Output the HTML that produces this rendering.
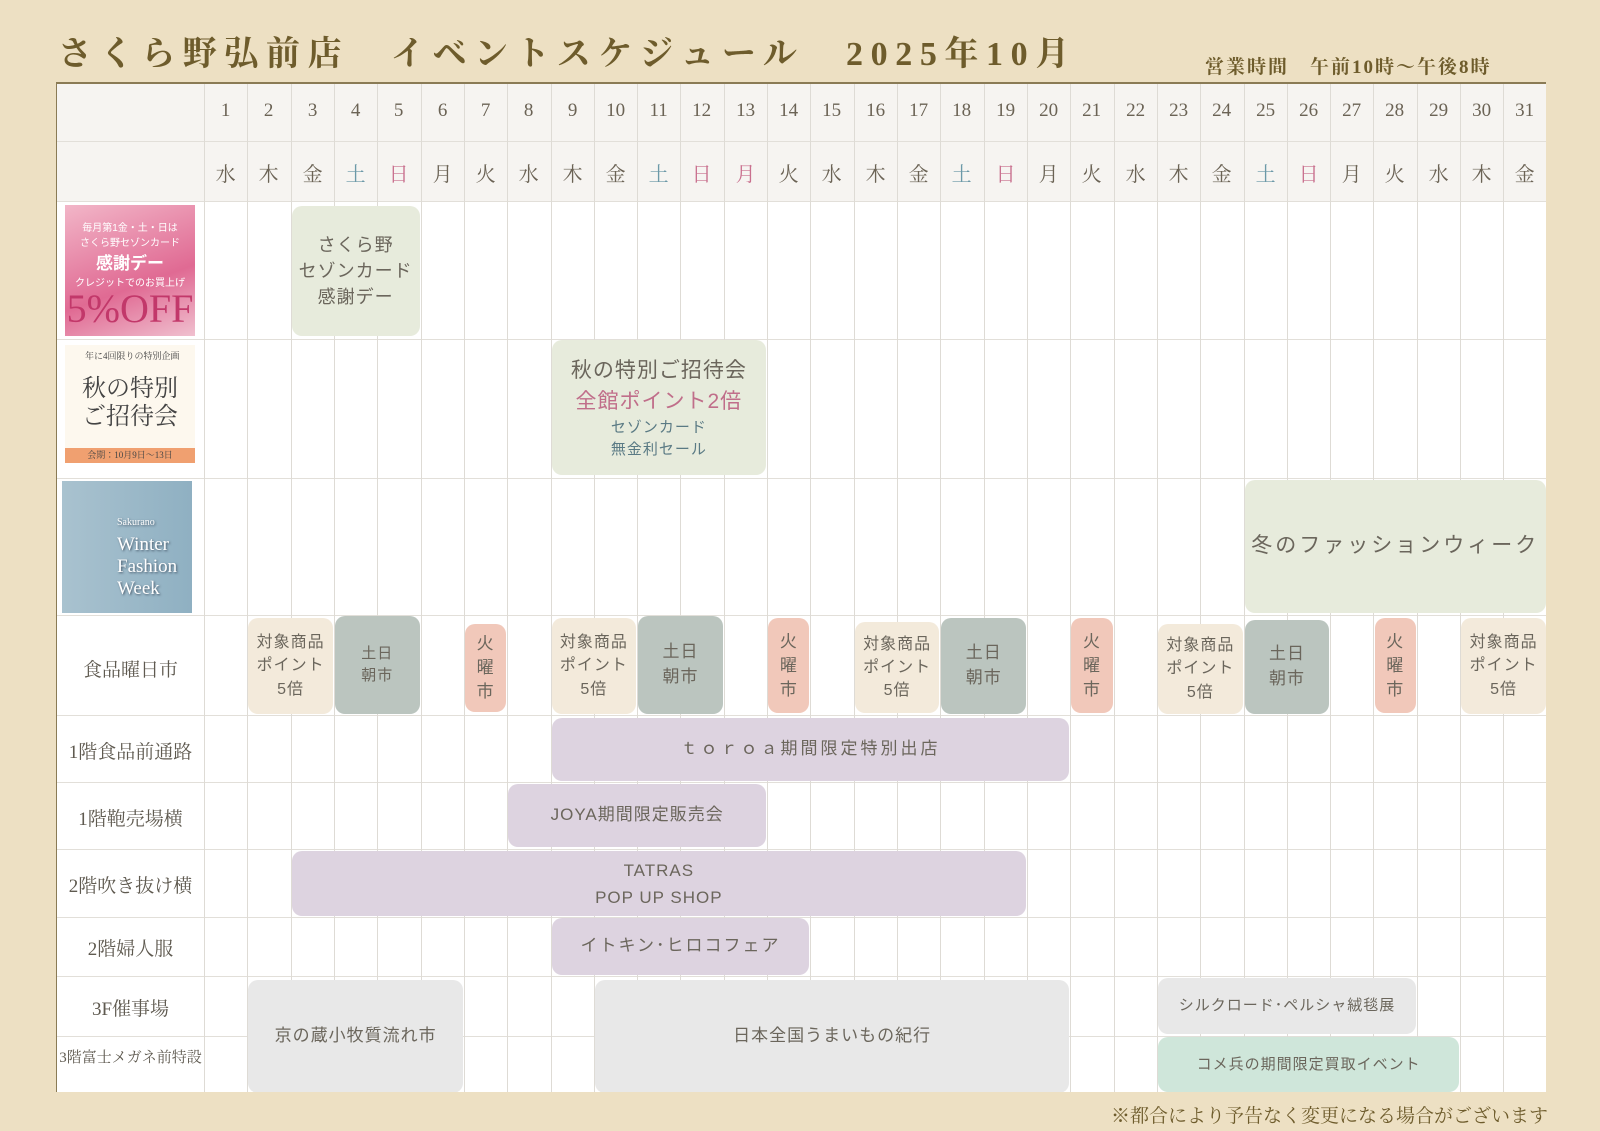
<!DOCTYPE html>
<html><head><meta charset="utf-8">
<style>
*{margin:0;padding:0;box-sizing:border-box}
body{width:1600px;height:1131px;background:#ede0c3;position:relative;overflow:hidden;font-family:"Liberation Serif","Noto Serif CJK JP","Noto Serif CJK SC",serif;color:#6b6355}
.title{position:absolute;left:58px;top:26px;font-size:34px;font-weight:bold;color:#6e5c2c;letter-spacing:7.6px;white-space:nowrap}
.hours{position:absolute;left:1205px;top:52px;font-size:19px;font-weight:bold;color:#6e5c2c;letter-spacing:2px;white-space:nowrap}
.foot{position:absolute;right:52px;top:1101px;font-size:19px;color:#6e5c2c;white-space:nowrap}
.tbl{position:absolute;left:56px;top:82px;width:1490px;height:1010px;background:#fff;border-top:2px solid #8a7b55;border-left:1px solid #8a7b55;overflow:hidden}
.hdr{position:absolute;left:0;top:0;width:1490px;height:117px;background:#f6f4f1}
.vl{position:absolute;top:0;width:1px;height:1010px;background:#dedbd5}
.hl{position:absolute;left:0;width:1490px;height:1px;background:#e2dfd9}
.num,.dow{position:absolute;width:43.32px;text-align:center;font-size:19px}
.num{top:16px}.dow{top:74px;font-size:20px}
.sat{color:#6c99a8}.sun{color:#c9708e}
.lab{position:absolute;left:0;width:147px;text-align:center;font-size:19px;color:#5f5a50}
.ev{position:absolute;left:calc(147px + (var(--s) - 1)*43.32px + 1px);width:calc((var(--e) - var(--s) + 1)*43.32px - 2px);border-radius:10px;display:flex;align-items:center;justify-content:center;text-align:center;font-family:"Liberation Sans","Noto Sans CJK JP",sans-serif;color:#6b665c;font-size:17px;line-height:1.45;letter-spacing:1px}
.g{background:#e7ebdc}.p{background:#ddd3e0}.gr{background:#e8e8e8}.m{background:#cfe6da}
.bg{background:#f3eadb}.sg{background:#bbc5bf}.pk{background:#f1c8ba}
.img{position:absolute;left:8px;width:130px;overflow:hidden}
</style></head><body>
<div class="title">さくら野弘前店　イベントスケジュール　2025年10月</div>
<div class="hours">営業時間　午前10時～午後8時</div>
<div class="tbl">
<div class="hdr"></div>
<div class="hl" style="top:57px"></div>
<div class="hl" style="top:117px"></div>
<div class="hl" style="top:255px"></div>
<div class="hl" style="top:394px"></div>
<div class="hl" style="top:531px"></div>
<div class="hl" style="top:631px"></div>
<div class="hl" style="top:698px"></div>
<div class="hl" style="top:765px"></div>
<div class="hl" style="top:833px"></div>
<div class="hl" style="top:892px"></div>
<div class="hl" style="top:952px"></div>
<div class="vl" style="left:147px"></div>
<div class="vl" style="left:190px"></div><div class="vl" style="left:234px"></div><div class="vl" style="left:277px"></div><div class="vl" style="left:320px"></div><div class="vl" style="left:364px"></div><div class="vl" style="left:407px"></div><div class="vl" style="left:450px"></div><div class="vl" style="left:494px"></div><div class="vl" style="left:537px"></div><div class="vl" style="left:580px"></div><div class="vl" style="left:623px"></div><div class="vl" style="left:667px"></div><div class="vl" style="left:710px"></div><div class="vl" style="left:753px"></div><div class="vl" style="left:797px"></div><div class="vl" style="left:840px"></div><div class="vl" style="left:883px"></div><div class="vl" style="left:927px"></div><div class="vl" style="left:970px"></div><div class="vl" style="left:1013px"></div><div class="vl" style="left:1057px"></div><div class="vl" style="left:1100px"></div><div class="vl" style="left:1143px"></div><div class="vl" style="left:1187px"></div><div class="vl" style="left:1230px"></div><div class="vl" style="left:1273px"></div><div class="vl" style="left:1316px"></div><div class="vl" style="left:1360px"></div><div class="vl" style="left:1403px"></div><div class="vl" style="left:1446px"></div>

<div class="num" style="left:147px">1</div><div class="num" style="left:190px">2</div><div class="num" style="left:234px">3</div><div class="num" style="left:277px">4</div><div class="num" style="left:320px">5</div><div class="num" style="left:364px">6</div><div class="num" style="left:407px">7</div><div class="num" style="left:450px">8</div><div class="num" style="left:494px">9</div><div class="num" style="left:537px">10</div><div class="num" style="left:580px">11</div><div class="num" style="left:623px">12</div><div class="num" style="left:667px">13</div><div class="num" style="left:710px">14</div><div class="num" style="left:753px">15</div><div class="num" style="left:797px">16</div><div class="num" style="left:840px">17</div><div class="num" style="left:883px">18</div><div class="num" style="left:927px">19</div><div class="num" style="left:970px">20</div><div class="num" style="left:1013px">21</div><div class="num" style="left:1057px">22</div><div class="num" style="left:1100px">23</div><div class="num" style="left:1143px">24</div><div class="num" style="left:1187px">25</div><div class="num" style="left:1230px">26</div><div class="num" style="left:1273px">27</div><div class="num" style="left:1316px">28</div><div class="num" style="left:1360px">29</div><div class="num" style="left:1403px">30</div><div class="num" style="left:1446px">31</div>

<div class="dow" style="left:147px">水</div><div class="dow" style="left:190px">木</div><div class="dow" style="left:234px">金</div><div class="dow sat" style="left:277px">土</div><div class="dow sun" style="left:320px">日</div><div class="dow" style="left:364px">月</div><div class="dow" style="left:407px">火</div><div class="dow" style="left:450px">水</div><div class="dow" style="left:494px">木</div><div class="dow" style="left:537px">金</div><div class="dow sat" style="left:580px">土</div><div class="dow sun" style="left:623px">日</div><div class="dow sun" style="left:667px">月</div><div class="dow" style="left:710px">火</div><div class="dow" style="left:753px">水</div><div class="dow" style="left:797px">木</div><div class="dow" style="left:840px">金</div><div class="dow sat" style="left:883px">土</div><div class="dow sun" style="left:927px">日</div><div class="dow" style="left:970px">月</div><div class="dow" style="left:1013px">火</div><div class="dow" style="left:1057px">水</div><div class="dow" style="left:1100px">木</div><div class="dow" style="left:1143px">金</div><div class="dow sat" style="left:1187px">土</div><div class="dow sun" style="left:1230px">日</div><div class="dow" style="left:1273px">月</div><div class="dow" style="left:1316px">火</div><div class="dow" style="left:1360px">水</div><div class="dow" style="left:1403px">木</div><div class="dow" style="left:1446px">金</div>

<!-- images -->
<div class="img" style="top:121px;height:131px;background:linear-gradient(160deg,#f2b6c8,#e06a93 60%,#f0c0cf);color:#fff;text-align:center;font-size:10px;padding-top:14px;font-family:'Liberation Sans','Noto Sans CJK JP',sans-serif">毎月第1金・土・日は<br>さくら野セゾンカード<br><b style="font-size:17px">感謝デー</b><br>クレジットでのお買上げ<br><span style="font-size:40px;line-height:40px;color:#c2386a;font-family:'Liberation Serif',serif">5%OFF</span></div>
<div class="img" style="top:261px;height:118px;background:#fdf8ee;text-align:center;color:#444;font-size:24px;line-height:28px;padding-top:30px">秋の特別<br>ご招待会<div style="position:absolute;left:0;bottom:0;width:130px;height:15px;background:#f0a070;font-size:9px;line-height:15px">会期：10月9日～13日</div><div style="position:absolute;left:20px;top:6px;font-size:9px;line-height:11px">年に4回限りの特別企画</div></div>
<div class="img" style="top:397px;left:5px;height:132px;background:linear-gradient(90deg,#a9c2cf,#8fb0c2);color:#fff;font-size:19px;line-height:22px;padding:28px 0 0 55px;text-shadow:1px 1px 2px #456">
<span style="font-size:10px">Sakurano</span><br>Winter<br>Fashion<br>Week</div>

<div class="lab" style="top:571px">食品曜日市</div>
<div class="lab" style="top:653px">1階食品前通路</div>
<div class="lab" style="top:720px">1階鞄売場横</div>
<div class="lab" style="top:787px">2階吹き抜け横</div>
<div class="lab" style="top:850px">2階婦人服</div>
<div class="lab" style="top:910px">3F催事場</div>
<div class="lab" style="top:962px;font-size:15px">3階富士メガネ前特設</div>

<div class="ev g" style="--s:3;--e:5;top:122px;height:130px;font-size:18px;line-height:26px">さくら野<br>セゾンカード<br>感謝デー</div>
<div class="ev g" style="--s:9;--e:13;top:256px;height:135px;font-size:21px;line-height:31px"><div>秋の特別ご招待会<br><span style="color:#c06e8a">全館ポイント2倍</span><br><span style="font-size:15px;line-height:22px;color:#5a7a84;display:block">セゾンカード<br>無金利セール</span></div></div>
<div class="ev g" style="--s:25;--e:31;top:396px;height:133px;font-size:21px;letter-spacing:3px">冬のファッションウィーク</div>

<div class="ev bg" style="--s:2;--e:3;top:534px;height:96px;font-size:16px">対象商品<br>ポイント<br>5倍</div>
<div class="ev sg" style="--s:4;--e:5;top:532px;height:98px;font-size:15px">土日<br>朝市</div>
<div class="ev pk" style="--s:7;--e:7;top:540px;height:88px;font-size:17px;line-height:24px">火<br>曜<br>市</div>
<div class="ev bg" style="--s:9;--e:10;top:534px;height:96px;font-size:16px">対象商品<br>ポイント<br>5倍</div>
<div class="ev sg" style="--s:11;--e:12;top:532px;height:98px;font-size:17px">土日<br>朝市</div>
<div class="ev pk" style="--s:14;--e:14;top:534px;height:95px;font-size:17px;line-height:24px">火<br>曜<br>市</div>
<div class="ev bg" style="--s:16;--e:17;top:538px;height:91px;font-size:16px">対象商品<br>ポイント<br>5倍</div>
<div class="ev sg" style="--s:18;--e:19;top:534px;height:96px;font-size:17px">土日<br>朝市</div>
<div class="ev pk" style="--s:21;--e:21;top:534px;height:95px;font-size:17px;line-height:24px">火<br>曜<br>市</div>
<div class="ev bg" style="--s:23;--e:24;top:540px;height:90px;font-size:16px">対象商品<br>ポイント<br>5倍</div>
<div class="ev sg" style="--s:25;--e:26;top:536px;height:94px;font-size:17px">土日<br>朝市</div>
<div class="ev pk" style="--s:28;--e:28;top:534px;height:95px;font-size:17px;line-height:24px">火<br>曜<br>市</div>
<div class="ev bg" style="--s:30;--e:31;top:534px;height:96px;font-size:16px">対象商品<br>ポイント<br>5倍</div>

<div class="ev p" style="--s:9;--e:20;top:634px;height:63px;letter-spacing:3px">ｔｏｒｏａ期間限定特別出店</div>
<div class="ev p" style="--s:8;--e:13;top:700px;height:63px">JOYA期間限定販売会</div>
<div class="ev p" style="--s:3;--e:19;top:767px;height:65px;line-height:27px">TATRAS<br>POP UP SHOP</div>
<div class="ev p" style="--s:9;--e:14;top:834px;height:57px;letter-spacing:2px">イトキン･ヒロコフェア</div>

<div class="ev gr" style="--s:2;--e:6;top:896px;height:113px">京の蔵小牧質流れ市</div>
<div class="ev gr" style="--s:10;--e:20;top:896px;height:113px">日本全国うまいもの紀行</div>
<div class="ev gr" style="--s:23;--e:28;top:894px;height:56px;font-size:15px">シルクロード･ペルシャ絨毯展</div>
<div class="ev m" style="--s:23;--e:29;top:953px;height:55px;font-size:15px">コメ兵の期間限定買取イベント</div>
</div>
<div class="foot">※都合により予告なく変更になる場合がございます</div>
</body></html>
